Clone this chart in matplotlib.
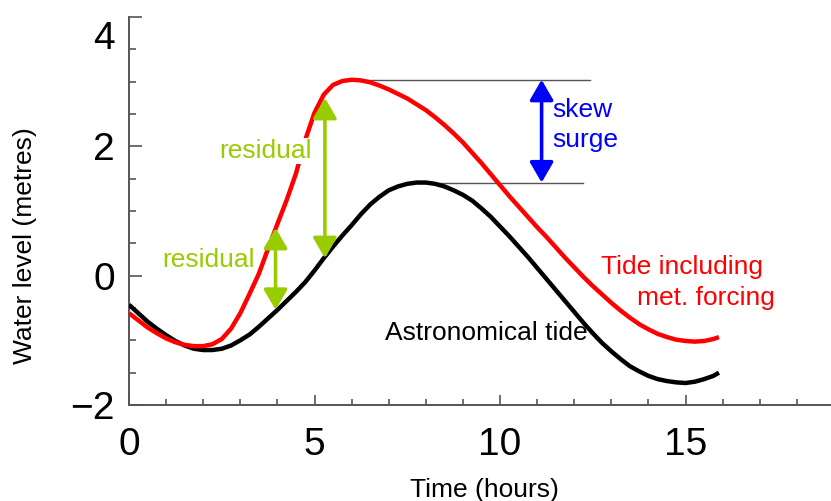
#!/usr/bin/env python3
"""Astronomical tide vs. tide including meteorological forcing, with
residual and skew-surge annotations."""

import matplotlib

matplotlib.use("Agg")

import matplotlib.pyplot as plt
import matplotlib.transforms as mtransforms
from matplotlib.ticker import MultipleLocator

plt.rcParams["font.family"] = ["Liberation Sans", "DejaVu Sans"]

# hours, every quarter hour
hours = [0.00, 0.25, 0.50, 0.75, 1.00, 1.25, 1.50, 1.75, 2.00, 2.25, 2.50,
         2.75, 3.00, 3.25, 3.50, 3.75, 4.00, 4.25, 4.50, 4.75, 5.00, 5.25,
         5.50, 5.75, 6.00, 6.25, 6.50, 6.75, 7.00, 7.25, 7.50, 7.75, 8.00,
         8.25, 8.50, 8.75, 9.00, 9.25, 9.50, 9.75, 10.00, 10.25, 10.50,
         10.75, 11.00, 11.25, 11.50, 11.75, 12.00, 12.25, 12.50, 12.75,
         13.00, 13.25, 13.50, 13.75, 14.00, 14.25, 14.50, 14.75, 15.00,
         15.25, 15.50, 15.75, 15.90]

astro_tide = [-0.45, -0.58, -0.71, -0.82, -0.92, -1.01, -1.08, -1.13, -1.15,
              -1.15, -1.13, -1.08, -1.00, -0.91, -0.79, -0.66, -0.53, -0.39,
              -0.25, -0.10, 0.08, 0.27, 0.45, 0.62, 0.78, 0.95, 1.10, 1.22,
              1.32, 1.38, 1.42, 1.44, 1.44, 1.42, 1.38, 1.32, 1.25, 1.16,
              1.04, 0.91, 0.76, 0.61, 0.45, 0.29, 0.12, -0.05, -0.22, -0.39,
              -0.56, -0.73, -0.89, -1.04, -1.17, -1.29, -1.40, -1.48, -1.55,
              -1.60, -1.63, -1.65, -1.66, -1.64, -1.60, -1.55, -1.50]

total_tide = [-0.58, -0.69, -0.80, -0.89, -0.97, -1.03, -1.07, -1.09, -1.09,
              -1.06, -0.98, -0.82, -0.58, -0.28, 0.03, 0.42, 0.80, 1.17,
              1.58, 2.10, 2.52, 2.80, 2.95, 3.01, 3.03, 3.02, 2.99, 2.94,
              2.88, 2.81, 2.74, 2.65, 2.56, 2.45, 2.33, 2.20, 2.06, 1.90,
              1.74, 1.57, 1.40, 1.23, 1.07, 0.91, 0.75, 0.60, 0.44, 0.28,
              0.13, -0.02, -0.16, -0.29, -0.42, -0.54, -0.65, -0.75, -0.83,
              -0.90, -0.95, -0.99, -1.01, -1.02, -1.01, -0.98, -0.95]

# annotation values (hours, metres)
residual_1 = (3.95, -0.53, 0.74)
residual_2 = (5.28, 0.27, 2.75)
peak_total = (6.0, 3.03)
peak_astro = (7.84, 1.44)
skew_x = 11.12
guide_end = (12.43, 12.24)

yticks = [-2, 0, 2, 4]
xticks = [0, 5, 10, 15]

RED = "#ff0000"
GREEN = "#99cc00"
BLUE = "#0000ff"
AXIS_GREY = "#555555"


def main():
    fig = plt.figure(figsize=(8.31, 5.01), dpi=100)
    ax = fig.add_axes([129 / 831, 1 - 405 / 501, 1 - 129 / 831, 388 / 501])

    line_kw = dict(lw=3.2, solid_capstyle="butt", solid_joinstyle="round",
                   zorder=3)
    ax.plot(hours, astro_tide, color="black", **line_kw)
    ax.plot(hours, total_tide, color=RED, **line_kw)

    # guide lines at the two peaks
    ax.plot([peak_total[0], guide_end[0]], [peak_total[1]] * 2,
            color=AXIS_GREY, lw=1.0, zorder=2)
    ax.plot([peak_astro[0], guide_end[1]], [peak_astro[1]] * 2,
            color=AXIS_GREY, lw=1.0, zorder=2)

    arrow_kw = dict(arrowstyle="<|-|>,head_length=0.62,head_width=0.36",
                    mutation_scale=20, lw=2.6, shrinkA=0, shrinkB=0)
    for x, lo, hi in (residual_1, residual_2):
        ax.annotate("", xy=(x, hi), xytext=(x, lo),
                    arrowprops=dict(color=GREEN, **arrow_kw), zorder=5)
    ax.annotate("", xy=(skew_x, peak_total[1]), xytext=(skew_x, peak_astro[1]),
                arrowprops=dict(color=BLUE, **arrow_kw), zorder=5)

    ax.text(2.13, 0.14, "residual", color=GREEN, fontsize=19,
            ha="center", va="baseline", zorder=6)
    ax.text(3.67, 1.82, "residual", color=GREEN, fontsize=19,
            ha="center", va="baseline", zorder=6,
            bbox=dict(facecolor="white", edgecolor="none", pad=1))
    ax.text(11.42, 2.45, "skew", color=BLUE, fontsize=19, ha="left",
            va="baseline")
    ax.text(11.42, 1.99, "surge", color=BLUE, fontsize=19, ha="left",
            va="baseline")
    ax.text(17.09, 0.03, "Tide including", color=RED, fontsize=19,
            ha="right", va="baseline")
    ax.text(17.41, -0.45, "met. forcing", color=RED, fontsize=19,
            ha="right", va="baseline")
    ax.text(6.90, -0.99, "Astronomical tide", color="black", fontsize=19,
            ha="left", va="baseline")

    ax.set_xlim(0, 18.92)
    ax.set_ylim(-2, 4)
    ax.set_xticks(xticks)
    ax.set_yticks(yticks)
    ax.xaxis.set_minor_locator(MultipleLocator(1))
    ax.yaxis.set_minor_locator(MultipleLocator(0.5))

    for side in ("top", "right"):
        ax.spines[side].set_visible(False)
    for side in ("left", "bottom"):
        ax.spines[side].set_color(AXIS_GREY)
        ax.spines[side].set_linewidth(1.4)

    ax.tick_params(which="both", direction="in", color=AXIS_GREY, width=1.2)
    ax.tick_params(axis="y", which="major", length=9.5, pad=10, labelsize=28)
    ax.tick_params(axis="y", which="minor", length=5)
    ax.tick_params(axis="x", which="major", length=7, pad=16, labelsize=28)
    ax.tick_params(axis="x", which="minor", length=4)

    # the top "4" sits lower than its tick in the reference
    top_label = ax.yaxis.get_major_ticks()[-1].label1
    top_label.set_transform(top_label.get_transform()
                            + mtransforms.ScaledTranslation(0, -0.18,
                                                            fig.dpi_scale_trans))

    ax.set_ylabel("Water level (metres)", fontsize=19, va="center")
    ax.yaxis.set_label_coords(-0.148, 0.412)
    ax.set_xlabel("Time (hours)", fontsize=19, va="center")
    ax.xaxis.set_label_coords(0.5057, -0.22)

    fig.savefig("out.png", dpi=100)


if __name__ == "__main__":
    main()
